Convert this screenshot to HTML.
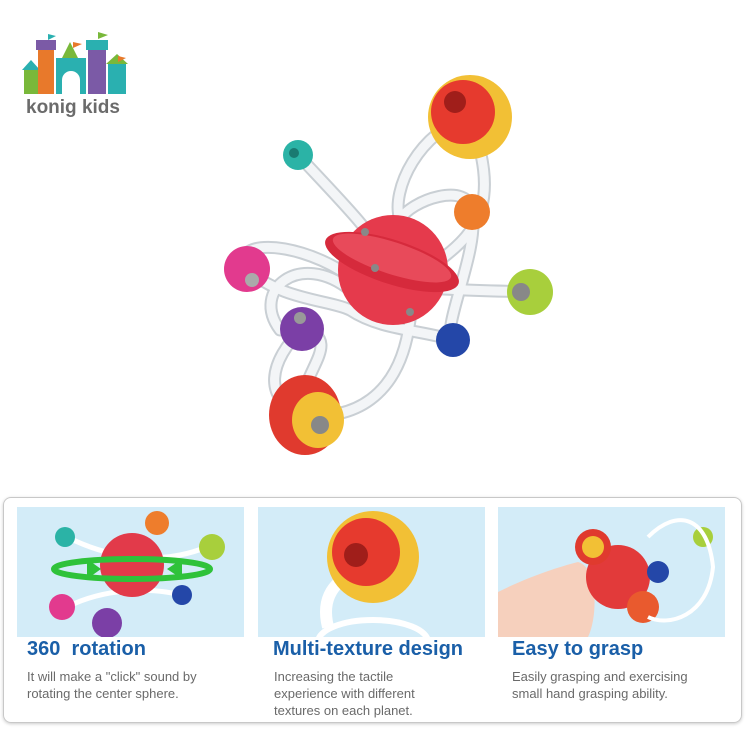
<!DOCTYPE html>
<html><head><meta charset="utf-8"><style>
body{margin:0;width:750px;height:750px;background:#fff;position:relative;overflow:hidden;font-family:"Liberation Sans",sans-serif}
.frame{position:absolute;left:3px;top:497px;width:737px;height:224px;border:1.5px solid #c8c8c8;border-radius:8px;box-shadow:0 1px 3px #ccc}
.p{position:absolute;top:507px;width:227px;height:130px;background:#d3ecf8;overflow:hidden}
.t{position:absolute;top:638px;font-weight:bold;font-size:20px;color:#1a5fa8}
.d{position:absolute;top:668px;font-size:13px;line-height:17px;color:#6a6a6a}
</style></head><body>
<svg width="750" height="480" style="position:absolute;left:0;top:0">
<g>
<rect x="24" y="70" width="14" height="24" fill="#79b83a"/><polygon points="22,70 31,60 40,70" fill="#2ab0b0"/>
<rect x="38" y="48" width="16" height="46" fill="#e8792b"/><rect x="36" y="40" width="20" height="10" fill="#7b5aa6"/>
<rect x="56" y="58" width="30" height="36" fill="#2ab0b0"/><polygon points="62,58 70,42 78,58" fill="#79b83a"/>
<rect x="88" y="48" width="18" height="46" fill="#7b5aa6"/><rect x="86" y="40" width="22" height="10" fill="#2ab0b0"/>
<rect x="108" y="64" width="18" height="30" fill="#2ab0b0"/><polygon points="106,64 117,54 128,64" fill="#79b83a"/>
<path d="M62 94 v-14 a9 9 0 0 1 18 0 v14z" fill="#fff"/>
<polygon points="48,34 48,40 56,36" fill="#2ab0b0"/><polygon points="98,32 98,39 108,35" fill="#79b83a"/>
<polygon points="73,42 73,48 82,44" fill="#e8792b"/><polygon points="118,56 118,62 126,58" fill="#e8792b"/>
<text x="26" y="113" font-size="19" font-weight="bold" fill="#6b6b6b" font-family="Liberation Sans">konig kids</text>
</g>
<g id="tubes" fill="none" stroke-linecap="round">
<g stroke="#c9cfd4" stroke-width="13">
<path d="M298 155 C340 200 370 230 387 260"/>
<path d="M247 269 C230 240 290 240 340 270 C370 290 470 290 530 292"/>
<path d="M470 117 C420 130 390 190 400 220 C410 200 470 180 472 212 C480 250 440 330 453 340"/>
<path d="M470 117 C500 200 480 230 440 260"/>
<path d="M302 329 C270 360 260 400 305 415 C350 420 400 400 410 320"/>
<path d="M247 269 C280 300 330 300 350 310 C380 330 420 330 453 340"/>
<path d="M305 415 C290 380 350 340 302 329"/>
<path d="M280 330 C250 290 300 250 350 290"/>
</g>
<g stroke="#f3f5f7" stroke-width="9">
<path d="M298 155 C340 200 370 230 387 260"/>
<path d="M247 269 C230 240 290 240 340 270 C370 290 470 290 530 292"/>
<path d="M470 117 C420 130 390 190 400 220 C410 200 470 180 472 212 C480 250 440 330 453 340"/>
<path d="M470 117 C500 200 480 230 440 260"/>
<path d="M302 329 C270 360 260 400 305 415 C350 420 400 400 410 320"/>
<path d="M247 269 C280 300 330 300 350 310 C380 330 420 330 453 340"/>
<path d="M305 415 C290 380 350 340 302 329"/>
<path d="M280 330 C250 290 300 250 350 290"/>
</g>
</g>
<circle cx="470" cy="117" r="42" fill="#f2c035"/><circle cx="463" cy="112" r="32" fill="#e63a2e"/><circle cx="455" cy="102" r="11" fill="#a01e1a"/>
<circle cx="298" cy="155" r="15" fill="#2bb3a6"/><circle cx="294" cy="153" r="5" fill="#1a7a72"/>
<circle cx="472" cy="212" r="18" fill="#ee7d2c"/>
<circle cx="247" cy="269" r="23" fill="#e23a8e"/><circle cx="252" cy="280" r="7" fill="#aaa"/>
<circle cx="530" cy="292" r="23" fill="#a8cf3c"/><circle cx="521" cy="292" r="9" fill="#888"/>
<circle cx="302" cy="329" r="22" fill="#7b3fa6"/><circle cx="300" cy="318" r="6" fill="#999"/>
<circle cx="453" cy="340" r="17" fill="#2447a8"/>
<ellipse cx="305" cy="415" rx="36" ry="40" fill="#e03a2e"/><ellipse cx="318" cy="420" rx="26" ry="28" fill="#f2c035"/><circle cx="320" cy="425" r="9" fill="#888"/>
<circle cx="393" cy="270" r="55" fill="#e53a4c"/>
<ellipse cx="392" cy="262" rx="70" ry="22" transform="rotate(18 392 262)" fill="#d62a3c"/>
<ellipse cx="392" cy="258" rx="62" ry="16" transform="rotate(18 392 258)" fill="#e84a5a"/>
<circle cx="365" cy="232" r="4" fill="#888"/><circle cx="375" cy="268" r="4" fill="#888"/><circle cx="410" cy="312" r="4" fill="#888"/>
</svg>
<div class="frame"></div>
<div class="p" style="left:17px">
<svg width="227" height="130"><g fill="none" stroke="#fff" stroke-width="5"><path d="M50 30 C90 50 140 60 190 40"/><path d="M50 100 C90 80 140 80 170 90"/></g>
<circle cx="115" cy="58" r="32" fill="#e23a4a"/><ellipse cx="115" cy="62" rx="78" ry="10" fill="none" stroke="#2fc23a" stroke-width="6"/>
<polygon points="70,52 84,62 70,72" fill="#2fc23a"/><polygon points="165,52 150,62 165,72" fill="#2fc23a"/>
<circle cx="48" cy="30" r="10" fill="#2bb3a6"/><circle cx="140" cy="16" r="12" fill="#ee7d2c"/><circle cx="195" cy="40" r="13" fill="#a8cf3c"/>
<circle cx="45" cy="100" r="13" fill="#e23a8e"/><circle cx="90" cy="116" r="15" fill="#7b3fa6"/><circle cx="165" cy="88" r="10" fill="#2447a8"/></svg></div>
<div class="p" style="left:258px">
<svg width="227" height="130"><path d="M70 120 C60 80 90 70 100 60" fill="none" stroke="#fff" stroke-width="12"/>
<circle cx="115" cy="50" r="46" fill="#f2c035"/><circle cx="108" cy="45" r="34" fill="#e63a2e"/><circle cx="98" cy="48" r="12" fill="#a01e1a"/>
<path d="M60 135 a50 20 0 0 1 110 0" fill="none" stroke="#fff" stroke-width="6"/></svg></div>
<div class="p" style="left:498px">
<svg width="227" height="130"><path d="M0 130 V85 C30 70 60 60 80 55 C100 60 100 110 90 130z" fill="#f6d0bd"/>
<circle cx="120" cy="70" r="32" fill="#e23a3a"/><circle cx="95" cy="40" r="18" fill="#e03a2e"/><circle cx="95" cy="40" r="11" fill="#f2c035"/>
<circle cx="160" cy="65" r="11" fill="#2447a8"/><circle cx="205" cy="30" r="10" fill="#a8cf3c"/><circle cx="145" cy="100" r="16" fill="#e95a2e"/>
<path d="M150 30 C180 0 210 10 215 60 C210 110 170 120 150 110" fill="none" stroke="#fff" stroke-width="4"/></svg></div>
<div class="t" style="left:27px">360&nbsp; rotation</div>
<div class="d" style="left:27px">It will make a "click" sound by<br>rotating the center sphere.</div>
<div class="t" style="left:273px">Multi-texture design</div>
<div class="d" style="left:274px">Increasing the tactile<br>experience with different<br>textures on each planet.</div>
<div class="t" style="left:512px">Easy to grasp</div>
<div class="d" style="left:512px">Easily grasping and exercising<br>small hand grasping ability.</div>
</body></html>
